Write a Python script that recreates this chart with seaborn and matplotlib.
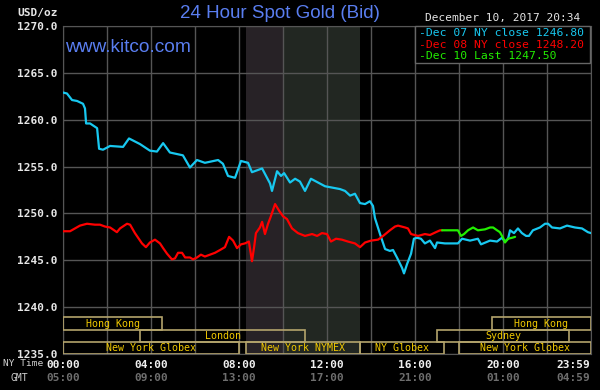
import numpy as np
import pandas as pd
import matplotlib.pyplot as plt
import seaborn as sns
from matplotlib.patches import Rectangle
from matplotlib.transforms import blended_transform_factory


# hours since 00:00 NY time, price in USD/oz
DEC07_HOURS = [
    0.00, 0.18, 0.41, 0.64, 0.91, 1.00, 1.05, 1.23, 1.55, 1.64, 1.82, 2.14,
    2.73, 3.00, 3.50, 3.95, 4.27, 4.55, 4.86, 5.45, 5.77, 6.09, 6.45, 7.05,
    7.27, 7.50, 7.82, 8.09, 8.41, 8.59, 9.05, 9.41, 9.50, 9.73, 9.91, 10.05,
    10.32, 10.55, 10.77, 11.00, 11.27, 11.59, 11.91, 12.59, 12.82, 13.05,
    13.27, 13.50, 13.73, 13.95, 14.09, 14.18, 14.41, 14.64, 14.86, 15.00,
    15.18, 15.41, 15.50, 15.64, 15.82, 15.95, 16.09, 16.27, 16.45, 16.68,
    16.91, 17.00, 17.36, 17.95, 18.14, 18.50, 18.86, 19.00, 19.41, 19.73,
    19.95, 20.09, 20.23, 20.32, 20.50, 20.68, 20.86, 21.05, 21.18, 21.36,
    21.68, 21.91, 22.05, 22.23, 22.59, 22.91, 23.27, 23.59, 23.86, 24.00,
]
DEC07_PRICES = [
    1262.9, 1262.8, 1262.1, 1262.0, 1261.7, 1261.2, 1259.6, 1259.6, 1259.1,
    1256.9, 1256.8, 1257.2, 1257.1, 1258.0, 1257.4, 1256.7, 1256.6, 1257.5,
    1256.5, 1256.2, 1254.9, 1255.7, 1255.4, 1255.7, 1255.3, 1254.0, 1253.8,
    1255.6, 1255.4, 1254.4, 1254.8, 1253.2, 1252.4, 1254.5, 1254.0, 1254.3,
    1253.3, 1253.7, 1253.4, 1252.4, 1253.7, 1253.3, 1252.9, 1252.6, 1252.4,
    1251.9, 1252.1, 1251.1, 1251.0, 1251.3, 1250.8, 1249.5, 1247.8, 1246.2,
    1246.0, 1246.1, 1245.3, 1244.2, 1243.6, 1244.6, 1245.7, 1247.3, 1247.4,
    1247.3, 1246.8, 1247.1, 1246.3, 1246.9, 1246.8, 1246.8, 1247.3, 1247.1,
    1247.3, 1246.7, 1247.1, 1247.0, 1247.4, 1247.0, 1247.3, 1248.2, 1247.9,
    1248.4, 1247.9, 1247.6, 1247.6, 1248.2, 1248.5, 1248.9, 1248.9, 1248.5,
    1248.4, 1248.7, 1248.5, 1248.4, 1248.0, 1247.9,
]

DEC08_HOURS = [
    0.00, 0.32, 0.77, 1.09, 1.45, 1.68, 1.91, 2.14, 2.45, 2.59, 2.91, 3.05,
    3.27, 3.59, 3.77, 3.95, 4.18, 4.41, 4.55, 4.73, 4.95, 5.09, 5.23, 5.41,
    5.55, 5.77, 5.91, 6.09, 6.27, 6.45, 6.68, 6.91, 7.14, 7.36, 7.55, 7.73,
    7.91, 8.09, 8.27, 8.45, 8.59, 8.68, 8.77, 8.95, 9.05, 9.18, 9.32, 9.45,
    9.64, 9.82, 10.00, 10.18, 10.41, 10.68, 11.00, 11.32, 11.55, 11.77, 12.00,
    12.18, 12.41, 12.68, 12.95, 13.27, 13.50, 13.73, 14.00, 14.32, 14.55,
    14.86, 15.09, 15.23, 15.55, 15.68, 15.82, 16.14, 16.45, 16.68, 16.95,
    17.14, 17.23,
]
DEC08_PRICES = [
    1248.1, 1248.1, 1248.7, 1248.9, 1248.8, 1248.8, 1248.6, 1248.5, 1248.0,
    1248.4, 1248.9, 1248.8, 1247.9, 1246.8, 1246.4, 1246.9, 1247.2, 1246.8,
    1246.3, 1245.7, 1245.1, 1245.2, 1245.8, 1245.8, 1245.3, 1245.3, 1245.1,
    1245.3, 1245.6, 1245.4, 1245.6, 1245.8, 1246.1, 1246.4, 1247.5, 1247.1,
    1246.3, 1246.7, 1246.8, 1247.0, 1244.9, 1246.3, 1247.9, 1248.5, 1249.1,
    1247.8, 1248.9, 1249.7, 1251.0, 1250.3, 1249.7, 1249.4, 1248.4, 1247.9,
    1247.6, 1247.8, 1247.6, 1247.9, 1247.8, 1247.0, 1247.3, 1247.2, 1247.0,
    1246.8, 1246.4, 1246.9, 1247.1, 1247.2, 1247.6, 1248.2, 1248.6, 1248.7,
    1248.5, 1248.4, 1247.8, 1247.6, 1247.8, 1247.7, 1248.0, 1248.2, 1248.2,
]

DEC10_HOURS = [
    17.23, 17.95, 18.09, 18.23, 18.41, 18.64, 18.86, 19.18, 19.41, 19.55,
    19.73, 19.86, 20.00, 20.09, 20.23, 20.41, 20.55,
]
DEC10_PRICES = [
    1248.2, 1248.2, 1247.6, 1247.8, 1248.2, 1248.5, 1248.2, 1248.3, 1248.5,
    1248.5, 1248.2, 1248.0, 1247.4, 1246.9, 1247.3, 1247.4, 1247.5,
]

SERIES_NAMES = ["Dec 07 NY close 1246.80", "Dec 08 NY close 1248.20", "Dec 10 Last 1247.50"]
SERIES_COLORS = ["#18c8f0", "#ff0000", "#22ee00"]

Y_TICKS = [1235.0, 1240.0, 1245.0, 1250.0, 1255.0, 1260.0, 1265.0, 1270.0]
X_TICKS = [0, 4, 8, 12, 16, 20, 23.98]
NY_LABELS = ["00:00", "04:00", "08:00", "12:00", "16:00", "20:00", "23:59"]
GMT_LABELS = ["05:00", "09:00", "13:00", "17:00", "21:00", "01:00", "04:59"]

# trading sessions: (start hour, end hour, row, label)
SESSION_START = [0.0, 19.5, 3.5, 17.0, 0.0, 8.33, 13.5, 18.0]
SESSION_END = [4.5, 24.0, 11.0, 23.0, 8.0, 13.5, 17.3, 24.0]
SESSION_ROW = [0, 0, 1, 1, 2, 2, 2, 2]
SESSION_NAMES = ["Hong Kong", "Hong Kong", "London", "Sydney",
                 "New York Globex", "New York NYMEX", "NY Globex", "New York Globex"]


def main():
    sns.set_style("dark")
    plt.rcParams["font.family"] = ["DejaVu Sans Mono"]

    # building one long dataframe for seaborn
    frames = []
    for name, hrs, prices in zip(
        SERIES_NAMES,
        [DEC07_HOURS, DEC08_HOURS, DEC10_HOURS],
        [DEC07_PRICES, DEC08_PRICES, DEC10_PRICES],
    ):
        frames.append(pd.DataFrame({"hour": hrs, "price": prices, "series": name}))
    df = pd.concat(frames, ignore_index=True)

    fig = plt.figure(figsize=(6, 3.9), dpi=100, facecolor="black")
    ax = fig.add_axes([63 / 600, 1 - 354 / 390, 528 / 600, 328 / 390])
    ax.set_facecolor("black")

    # NY trading hours shading
    ax.axvspan(8.33, 10.0, color="#272226", zorder=0, lw=0)
    ax.axvspan(10.0, 13.5, color="#222722", zorder=0, lw=0)

    # grid
    for h in range(0, 25, 2):
        ax.axvline(h, color="#555555", lw=1, zorder=1)
    for v in Y_TICKS:
        ax.axhline(v, color="#555555", lw=1, zorder=1)

    sns.lineplot(
        data=df,
        x="hour",
        y="price",
        hue="series",
        palette=dict(zip(SERIES_NAMES, SERIES_COLORS)),
        estimator=None,
        sort=False,
        linewidth=1.6,
        legend=False,
        ax=ax,
        zorder=3,
    )

    # session boxes along the bottom
    row_h = 1.3
    for s, e, r, name in zip(SESSION_START, SESSION_END, SESSION_ROW, SESSION_NAMES):
        y0 = 1235.0 + (2 - r) * row_h
        ax.add_patch(Rectangle((s, y0), e - s, row_h, fill=False,
                               edgecolor="#b4a46c", lw=1.2, zorder=4))
        ax.text((s + e) / 2, y0 + row_h / 2, name, color="#f0c800", fontsize=7.2,
                ha="center", va="center", zorder=5)

    ax.set_xlim(0, 24)
    ax.set_ylim(1235, 1270)
    ax.set_xlabel("")
    ax.set_ylabel("")
    for sp in ax.spines.values():
        sp.set_color("#555555")

    ax.set_yticks(Y_TICKS)
    ax.set_yticklabels([f"{v:.1f}" for v in Y_TICKS], color="#e6e6e6",
                       fontsize=8, fontweight="bold")
    ax.set_xticks(X_TICKS)
    ax.set_xticklabels(NY_LABELS, color="#f0f0f0", fontsize=8, fontweight="bold")
    ax.tick_params(length=0, pad=4)
    ax.get_xticklabels()[-1].set_horizontalalignment("right")

    # GMT row
    trans = blended_transform_factory(ax.transData, fig.transFigure)
    for i, (h, lab) in enumerate(zip(X_TICKS, GMT_LABELS)):
        ax.text(h, 1 - 378 / 390, lab, transform=trans, color="#6e6e6e",
                fontsize=8, fontweight="bold", ha="right" if i == len(X_TICKS) - 1 else "center",
                va="center")

    fig.text(43 / 600, 1 - 363 / 390, "NY Time", color="#d0d0d0", fontsize=6.8,
             ha="right", va="center")
    fig.text(28 / 600, 1 - 378 / 390, "GMT", color="#d0d0d0", fontsize=7,
             ha="right", va="center")
    fig.text(58 / 600, 1 - 13 / 390, "USD/oz", color="#e6e6e6", fontsize=8,
             fontweight="bold", ha="right", va="center")

    # titles
    fig.text(280 / 600, 1 - 14 / 390, "24 Hour Spot Gold (Bid)", color="#5a7ef0",
             fontsize=13.5, family="Liberation Sans", ha="center", va="center")
    fig.text(65 / 600, 1 - 47 / 390, "www.kitco.com", color="#5a7ef0",
             fontsize=13.8, family="Liberation Sans", ha="left", va="center")
    fig.text(580 / 600, 1 - 18 / 390, "December 10, 2017 20:34", color="#e6e6e6",
             fontsize=8, ha="right", va="center")

    # legend box
    ax.add_patch(Rectangle((415 / 600, 1 - 63 / 390), 175 / 600, 37 / 390,
                           transform=fig.transFigure, facecolor="black",
                           edgecolor="#666666", lw=1, zorder=6, clip_on=False))
    for i, (name, col) in enumerate(zip(SERIES_NAMES, SERIES_COLORS)):
        fig.text(419 / 600, 1 - (33 + 11.5 * i) / 390, "-" + name, color=col,
                 fontsize=8.2, ha="left", va="center", zorder=7)

    fig.savefig("out.png", dpi=100, facecolor="black")


if __name__ == "__main__":
    main()
